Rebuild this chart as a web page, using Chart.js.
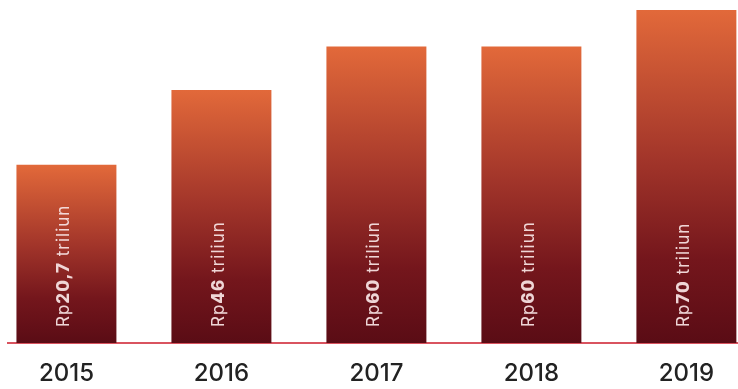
<!DOCTYPE html>
<html>
<head>
<meta charset="utf-8">
<script src="https://cdn.jsdelivr.net/npm/chart.js@4.4.0/dist/chart.umd.min.js"></script>
<style>
  html, body { margin: 0; padding: 0; background: #ffffff; }
  #wrap { width: 738px; height: 389px; position: relative; }
</style>
</head>
<body>
<div id="wrap"><canvas id="c" width="738" height="389"></canvas></div>
<script>
// Data
const years = ['2015', '2016', '2017', '2018', '2019'];
const amounts = ['20,7', '46', '60', '60', '70'];          // label values (Rp ... triliun)
const barHeights = [53.5, 76, 89, 89, 100];               // drawn bar heights, % of tallest bar
const prefixText = 'Rp';
const suffixText = ' triliun';

const FONT = 'Inter, "Noto Sans", sans-serif';

const barLabels = {
  id: 'barLabels',
  afterDatasetsDraw(chart) {
    const ctx = chart.ctx;
    const meta = chart.getDatasetMeta(0);
    const size = 17;
    meta.data.forEach((bar, i) => {
      ctx.save();
      ctx.translate(bar.x + 3, bar.base - 16);
      ctx.rotate(-Math.PI / 2);
      ctx.fillStyle = 'rgba(246,224,224,0.95)';
      ctx.textBaseline = 'alphabetic';
      ctx.textAlign = 'left';
      if ('letterSpacing' in ctx) ctx.letterSpacing = '1px';
      let x = 0;
      ctx.font = '400 ' + size + 'px ' + FONT;
      ctx.fillText(prefixText, x, 0);
      x += ctx.measureText(prefixText).width;
      ctx.font = '800 ' + size + 'px ' + FONT;
      ctx.fillText(amounts[i], x, 0);
      x += ctx.measureText(amounts[i]).width;
      ctx.font = '400 ' + size + 'px ' + FONT;
      ctx.fillText(suffixText, x, 0);
      ctx.restore();
    });
  }
};

function barGradient(context) {
  const chart = context.chart;
  const { ctx, chartArea } = chart;
  if (!chartArea || context.dataIndex === undefined) return '#a0301f';
  const yScale = chart.scales.y;
  const top = yScale.getPixelForValue(barHeights[context.dataIndex]);
  const bottom = yScale.getPixelForValue(0);
  const g = ctx.createLinearGradient(0, top, 0, bottom);
  g.addColorStop(0, '#e2693a');
  g.addColorStop(0.45, '#a2352a');
  g.addColorStop(0.75, '#74161c');
  g.addColorStop(1, '#5a0c15');
  return g;
}

new Chart(document.getElementById('c'), {
  type: 'bar',
  data: {
    datasets: [{
      data: barHeights.map((h, i) => ({ x: i, y: h })),
      backgroundColor: barGradient,
      borderWidth: 0,
      barPercentage: 0.645,
      categoryPercentage: 1
    }]
  },
  plugins: [barLabels],
  options: {
    responsive: false,
    animation: false,
    events: [],
    layout: { padding: { left: 8, right: 0, top: 0, bottom: 0 } },
    plugins: { legend: { display: false }, tooltip: { enabled: false } },
    scales: {
      x: {
        type: 'linear',
        offset: false,
        min: -0.377,
        max: 4.333,
        grid: { display: false, drawTicks: false, offset: false },
        border: { display: true, color: '#d9535f', width: 2 },
        afterBuildTicks(scale) {
          scale.ticks = years.map((_, i) => ({ value: i }));
        },
        afterFit(scale) { scale.height = 46; },
        ticks: {
          padding: 16,
          color: '#222222',
          font: { family: FONT, size: 24, weight: '500' },
          autoSkip: false,
          maxRotation: 0,
          callback: (v) => years[v]
        }
      },
      y: {
        display: false,
        min: 0,
        max: 103
      }
    }
  }
});
</script>
</body>
</html>
